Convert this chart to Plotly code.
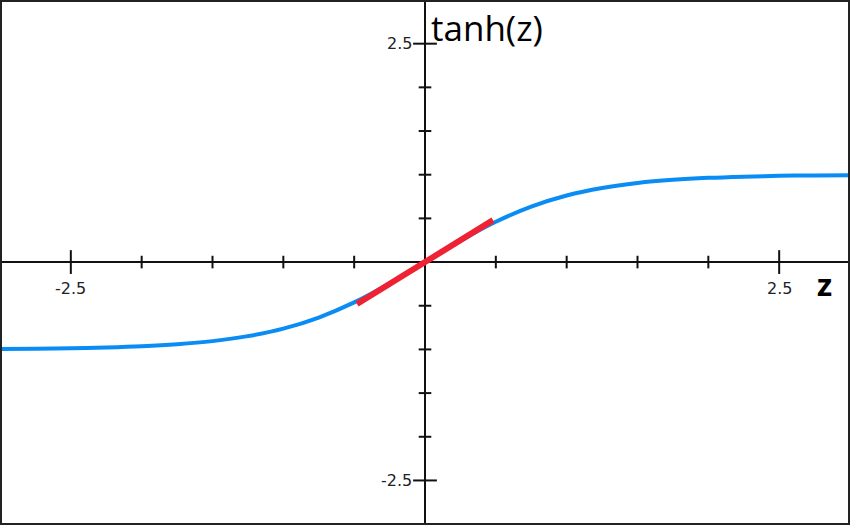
import plotly.graph_objects as go

# sampled curve values (z, tanh(z))
z_vals = [-3.0, -2.75, -2.5, -2.25, -2.0, -1.75, -1.5, -1.25, -1.0, -0.75, -0.5, -0.25,
          0.0, 0.25, 0.5, 0.75, 1.0, 1.25, 1.5, 1.75, 2.0, 2.25, 2.5, 2.75, 3.0]
tanh_vals = [-0.995, -0.992, -0.987, -0.978, -0.964, -0.941, -0.905, -0.848, -0.762, -0.635, -0.462, -0.245,
             0.0, 0.245, 0.462, 0.635, 0.762, 0.848, 0.905, 0.941, 0.964, 0.978, 0.987, 0.992, 0.995]

# tangent line at the origin
tangent_x = [-0.48, 0.48]
tangent_y = [-0.48, 0.48]

# axis ticks
minor_ticks = [-2.0, -1.5, -1.0, -0.5, 0.5, 1.0, 1.5, 2.0]
major_ticks = [-2.5, 2.5]
tick_labels = ["-2.5", "2.5"]

fig = go.Figure()

fig.add_trace(go.Scatter(x=z_vals, y=tanh_vals, mode="lines", line_shape="spline",
                         line=dict(color="#0a8cf5", width=4), hoverinfo="skip"))
fig.add_trace(go.Scatter(x=tangent_x, y=tangent_y, mode="lines",
                         line=dict(color="#ee2233", width=6), hoverinfo="skip"))

# ticks on the x axis
fig.add_trace(go.Scatter(x=minor_ticks, y=[0] * len(minor_ticks), mode="markers",
                         marker=dict(symbol="line-ns", size=9, line=dict(color="#111", width=2)),
                         hoverinfo="skip"))
fig.add_trace(go.Scatter(x=major_ticks, y=[0] * len(major_ticks), mode="markers",
                         marker=dict(symbol="line-ns", size=17, line=dict(color="#111", width=2)),
                         hoverinfo="skip"))
# ticks on the y axis
fig.add_trace(go.Scatter(x=[0] * len(minor_ticks), y=minor_ticks, mode="markers",
                         marker=dict(symbol="line-ew", size=9, line=dict(color="#111", width=2)),
                         hoverinfo="skip"))
fig.add_trace(go.Scatter(x=[0] * len(major_ticks), y=major_ticks, mode="markers",
                         marker=dict(symbol="line-ew", size=17, line=dict(color="#111", width=2)),
                         hoverinfo="skip"))

label_font = dict(family="DejaVu Sans", size=16, color="#222")
for v, t in zip(major_ticks, tick_labels):
    fig.add_annotation(x=v, y=0, text=t, showarrow=False, font=label_font,
                       xanchor="center", yanchor="middle", yshift=-26)
    fig.add_annotation(x=0, y=v, text=t, showarrow=False, font=label_font,
                       xanchor="right", yanchor="middle", xshift=-11)

fig.add_annotation(x=0, y=2.68, text="tanh(z)", showarrow=False,
                   font=dict(family="Open Sans", size=35, color="#000"),
                   xanchor="left", yanchor="middle", xshift=4)
fig.add_annotation(x=2.82, y=-0.25, text="<b>z</b>", showarrow=False,
                   font=dict(family="Open Sans", size=31, color="#000"),
                   xanchor="center", yanchor="middle")

fig.add_shape(type="rect", xref="paper", yref="paper", x0=0, y0=0, x1=1, y1=1,
              line=dict(color="#222", width=4), layer="above")

fig.update_layout(
    width=850, height=525, margin=dict(l=0, r=0, t=0, b=0),
    paper_bgcolor="white", plot_bgcolor="white", showlegend=False,
    xaxis=dict(range=[-3.0, 3.0], showgrid=False, showticklabels=False, ticks="",
               zeroline=True, zerolinecolor="#111", zerolinewidth=2, fixedrange=True),
    yaxis=dict(range=[-3.01, 3.0], showgrid=False, showticklabels=False, ticks="",
               zeroline=True, zerolinecolor="#111", zerolinewidth=2, fixedrange=True),
)

fig.write_html("out.html", config={"displayModeBar": False},
               post_script="document.body.style.margin='0';document.body.style.overflow='hidden';")
